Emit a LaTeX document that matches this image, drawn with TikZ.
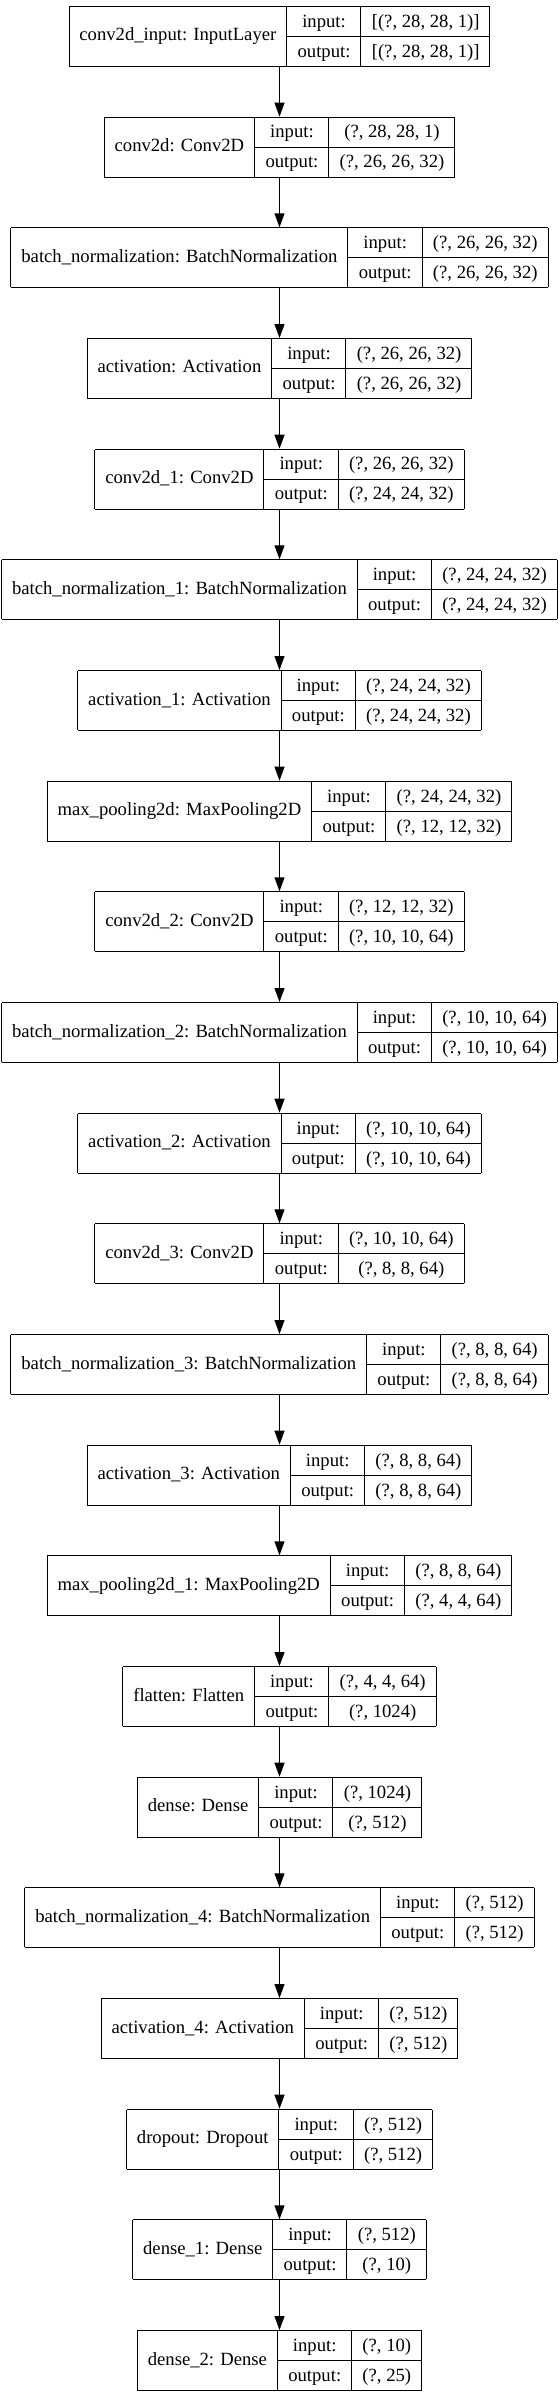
\documentclass[tikz,border=0pt]{standalone}
\usepackage{fontspec}
\setmainfont{Liberation Serif}
\usetikzlibrary{arrows.meta}
\tikzset{>={Triangle[length=7pt,width=5pt]}}

\setlength{\tabcolsep}{5.2pt}
\setlength{\arrayrulewidth}{0.5pt}
\renewcommand{\arraystretch}{1.318}

% one record: label | input:/output: | shapes
\newcommand{\record}[3]{%
  \begin{tabular}{|c|@{}c@{}|@{}c@{}|}\hline
    #1 & \begin{tabular}{c}input:\\\hline output:\end{tabular} &
    \begin{tabular}{c}#2\\\hline #3\end{tabular}\\\hline
  \end{tabular}}

\begin{document}
\begin{tikzpicture}[x=0.5pt, y=-0.5pt, >={Triangle[length=7pt,width=5pt]},
    layer/.style={anchor=north, inner sep=0pt, outer sep=0pt, font=\fontsize{9.33pt}{11pt}\selectfont}]

    \fill[white] (0,0) rectangle (559,2397);
    \useasboundingbox (0,0) rectangle (559,2397);

    % Layers
    \node[layer] (input) at (279.5,6) {\record{conv2d\_input: InputLayer}{[(?, 28, 28, 1)]}{[(?, 28, 28, 1)]}};
    \node[layer] (conv) at (279.5,116.7) {\record{conv2d: Conv2D}{(?, 28, 28, 1)}{(?, 26, 26, 32)}};
    \node[layer] (bn) at (279.5,227.3) {\record{batch\_normalization: BatchNormalization}{(?, 26, 26, 32)}{(?, 26, 26, 32)}};
    \node[layer] (act) at (279.5,338) {\record{activation: Activation}{(?, 26, 26, 32)}{(?, 26, 26, 32)}};
    \node[layer] (convA) at (279.5,448.7) {\record{conv2d\_1: Conv2D}{(?, 26, 26, 32)}{(?, 24, 24, 32)}};
    \node[layer] (bnA) at (279.5,559.3) {\record{batch\_normalization\_1: BatchNormalization}{(?, 24, 24, 32)}{(?, 24, 24, 32)}};
    \node[layer] (actA) at (279.5,670) {\record{activation\_1: Activation}{(?, 24, 24, 32)}{(?, 24, 24, 32)}};
    \node[layer] (pool) at (279.5,780.7) {\record{max\_pooling2d: MaxPooling2D}{(?, 24, 24, 32)}{(?, 12, 12, 32)}};
    \node[layer] (convB) at (279.5,891.3) {\record{conv2d\_2: Conv2D}{(?, 12, 12, 32)}{(?, 10, 10, 64)}};
    \node[layer] (bnB) at (279.5,1002) {\record{batch\_normalization\_2: BatchNormalization}{(?, 10, 10, 64)}{(?, 10, 10, 64)}};
    \node[layer] (actB) at (279.5,1112.7) {\record{activation\_2: Activation}{(?, 10, 10, 64)}{(?, 10, 10, 64)}};
    \node[layer] (convC) at (279.5,1223.3) {\record{conv2d\_3: Conv2D}{(?, 10, 10, 64)}{(?, 8, 8, 64)}};
    \node[layer] (bnC) at (279.5,1334) {\record{batch\_normalization\_3: BatchNormalization}{(?, 8, 8, 64)}{(?, 8, 8, 64)}};
    \node[layer] (actC) at (279.5,1444.7) {\record{activation\_3: Activation}{(?, 8, 8, 64)}{(?, 8, 8, 64)}};
    \node[layer] (poolA) at (279.5,1555.3) {\record{max\_pooling2d\_1: MaxPooling2D}{(?, 8, 8, 64)}{(?, 4, 4, 64)}};
    \node[layer] (flat) at (279.5,1666) {\record{flatten: Flatten}{(?, 4, 4, 64)}{(?, 1024)}};
    \node[layer] (dense) at (279.5,1776.7) {\record{dense: Dense}{(?, 1024)}{(?, 512)}};
    \node[layer] (bnD) at (279.5,1887.3) {\record{batch\_normalization\_4: BatchNormalization}{(?, 512)}{(?, 512)}};
    \node[layer] (actD) at (279.5,1998) {\record{activation\_4: Activation}{(?, 512)}{(?, 512)}};
    \node[layer] (drop) at (279.5,2108.7) {\record{dropout: Dropout}{(?, 512)}{(?, 512)}};
    \node[layer] (denseA) at (279.5,2219.3) {\record{dense\_1: Dense}{(?, 512)}{(?, 10)}};
    \node[layer] (denseB) at (279.5,2330) {\record{dense\_2: Dense}{(?, 10)}{(?, 25)}};

    % Connections
    \foreach \a/\b in {input/conv, conv/bn, bn/act, act/convA, convA/bnA, bnA/actA, actA/pool,
        pool/convB, convB/bnB, bnB/actB, actB/convC, convC/bnC, bnC/actC, actC/poolA,
        poolA/flat, flat/dense, dense/bnD, bnD/actD, actD/drop, drop/denseA, denseA/denseB}
        \draw[->, line width=0.5pt] (\a.south) -- (\b.north);
\end{tikzpicture}
\end{document}
